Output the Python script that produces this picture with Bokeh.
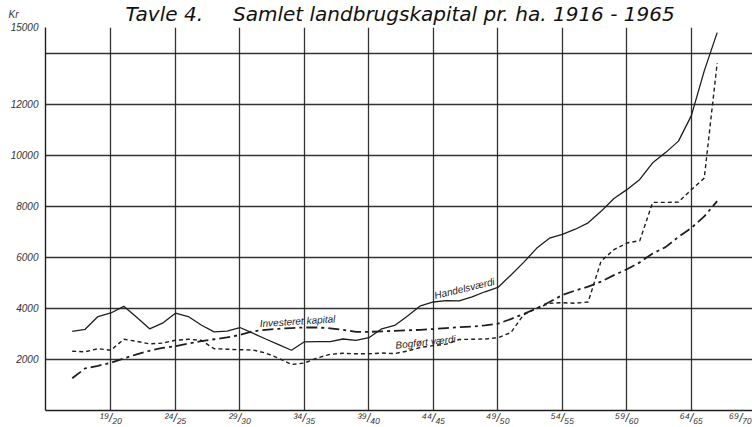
from bokeh.plotting import figure
from bokeh.models import FixedTicker, Label, Range1d
from bokeh.embed import file_html
from bokeh.resources import INLINE

years = list(range(1916, 1967))

handelsvaerdi = [3100, 3180, 3680, 3820, 4080, 3650, 3200, 3420, 3810, 3680,
                 3350, 3080, 3110, 3250, 3030, 2800, 2580, 2360, 2690, 2700,
                 2700, 2800, 2750, 2850, 3200, 3330, 3700, 4100, 4250, 4300,
                 4290, 4450, 4650, 4820, 5300, 5800, 6350, 6750, 6900, 7100,
                 7350, 7800, 8300, 8650, 9050, 9700, 10100, 10550, 11550, 13300,
                 14800]

bogfort_vaerdi = [2320, 2300, 2420, 2360, 2790, 2710, 2610, 2640, 2750, 2790,
                  2750, 2420, 2400, 2380, 2370, 2250, 2050, 1800, 1860, 2060,
                  2200, 2240, 2220, 2220, 2250, 2230, 2330, 2470, 2540, 2600,
                  2780, 2790, 2800, 2850, 3050, 3750, 4000, 4200, 4220, 4200,
                  4250, 5850, 6300, 6560, 6650, 8150, 8150, 8160, 8650, 9100,
                  13600]

investeret_kapital = [1260, 1650, 1750, 1870, 2040, 2200, 2340, 2450, 2520, 2620,
                      2720, 2790, 2860, 2960, 3100, 3160, 3200, 3230, 3250, 3250,
                      3220, 3160, 3080, 3080, 3100, 3120, 3140, 3160, 3190, 3230,
                      3260, 3290, 3330, 3400, 3580, 3780, 4000, 4250, 4520, 4700,
                      4850, 5050, 5300, 5530, 5800, 6150, 6400, 6800, 7150, 7600,
                      8200]

x_grid = [1919, 1924, 1929, 1934, 1939, 1944, 1949, 1954, 1959, 1964]
x_tick_labels = ["¹⁹/₂₀", "²⁴/₂₅", "²⁹/₃₀", "³⁴/₃₅", "³⁹/₄₀",
                 "⁴⁴/₄₅", "⁴⁹/₅₀", "⁵⁴/₅₅", "⁵⁹/₆₀", "⁶⁴/₆₅"]
last_x_label = "⁶⁹/₇₀"
y_grid = [2000, 4000, 6000, 8000, 10000, 12000, 14000, 15000]
y_tick_labels = ["2000", "4000", "6000", "8000", "10000", "12000", "", "15000"]
unit_label = "Kr"

TITLE = "Tavle 4.\u2003\u2002Samlet landbrugskapital pr. ha. 1916 - 1965"

FONT = "Liberation Sans"
TITLE_FONT = "DejaVu Sans"
INK = "#1e1e1e"

X0, X1 = 1913.93, 1968.74
LAST_LABEL_POS = 1967.8     # the 69/70 label sits at the clipped right edge
UNIT_POS = 14999            # the "Kr" unit label above the top tick label

p = figure(width=752, height=427,
           x_range=Range1d(X0, X1), y_range=Range1d(0, 15000),
           output_backend="svg", toolbar_location=None,
           min_border_left=45, min_border_right=0,
           min_border_top=27, min_border_bottom=15)
p.outline_line_color = None
p.background_fill_color = "white"
p.border_fill_color = "white"

# title
p.title.text = TITLE
p.title.align = "left"
p.title.vertical_align = "top"
p.title.offset = 80
p.title.standoff = 0
p.title.text_font = TITLE_FONT
p.title.text_font_style = "italic"
p.title.text_font_size = "20px"
p.title.text_color = "#111111"

# axes
x_axis_ticks = x_grid + [LAST_LABEL_POS]
x_overrides = {t: l for t, l in zip(x_grid, x_tick_labels)}
x_overrides[LAST_LABEL_POS] = last_x_label
p.xaxis.ticker = FixedTicker(ticks=x_axis_ticks)
p.xaxis.major_label_overrides = x_overrides

y_axis_ticks = y_grid + [UNIT_POS]
y_overrides = {t: l for t, l in zip(y_grid, y_tick_labels)}
y_overrides[UNIT_POS] = unit_label + "\u2003\u2003\n\n"
p.yaxis.ticker = FixedTicker(ticks=y_axis_ticks)
p.yaxis.major_label_overrides = y_overrides

for ax in (p.xaxis, p.yaxis):
    ax.major_tick_line_color = None
    ax.minor_tick_line_color = None
    ax.major_tick_out = 0
    ax.major_tick_in = 0
    ax.axis_line_color = INK
    ax.axis_line_width = 1.4
    ax.major_label_text_font = FONT
    ax.major_label_text_font_style = "italic"
    ax.major_label_text_color = "#333333"
p.yaxis.major_label_text_font_size = "10px"
p.yaxis.major_label_standoff = 7
p.xaxis.major_label_text_font_size = "12px"
p.xaxis.major_label_text_line_height = 0.8
p.xaxis.major_label_standoff = 0

p.xgrid.ticker = FixedTicker(ticks=x_grid)
p.ygrid.ticker = FixedTicker(ticks=y_grid)
for g in (p.xgrid, p.ygrid):
    g.grid_line_color = INK
    g.grid_line_width = 1.3
    g.grid_line_alpha = 0.9

# series
p.line(years, handelsvaerdi, line_color=INK, line_width=1.3)
p.line(years, bogfort_vaerdi, line_color=INK, line_width=1.4, line_dash="4 3")
p.line(years, investeret_kapital, line_color=INK, line_width=1.8, line_dash="11 4 3 4")

# series labels
lab_style = dict(text_font=FONT, text_font_style="italic", text_font_size="10px",
                 text_color=INK, text_align="center", text_baseline="middle")
p.add_layout(Label(x=1946.41, y=4780, text="Handelsværdi", angle=13.5,
                   angle_units="deg", **lab_style))
p.add_layout(Label(x=1933.47, y=3497, text="Investeret kapital", angle=3.6,
                   angle_units="deg", **lab_style))
p.add_layout(Label(x=1943.39, y=2681, text="Bogført værdi", angle=6,
                   angle_units="deg", **lab_style))

open("out.html", "w").write(file_html(p, INLINE))
